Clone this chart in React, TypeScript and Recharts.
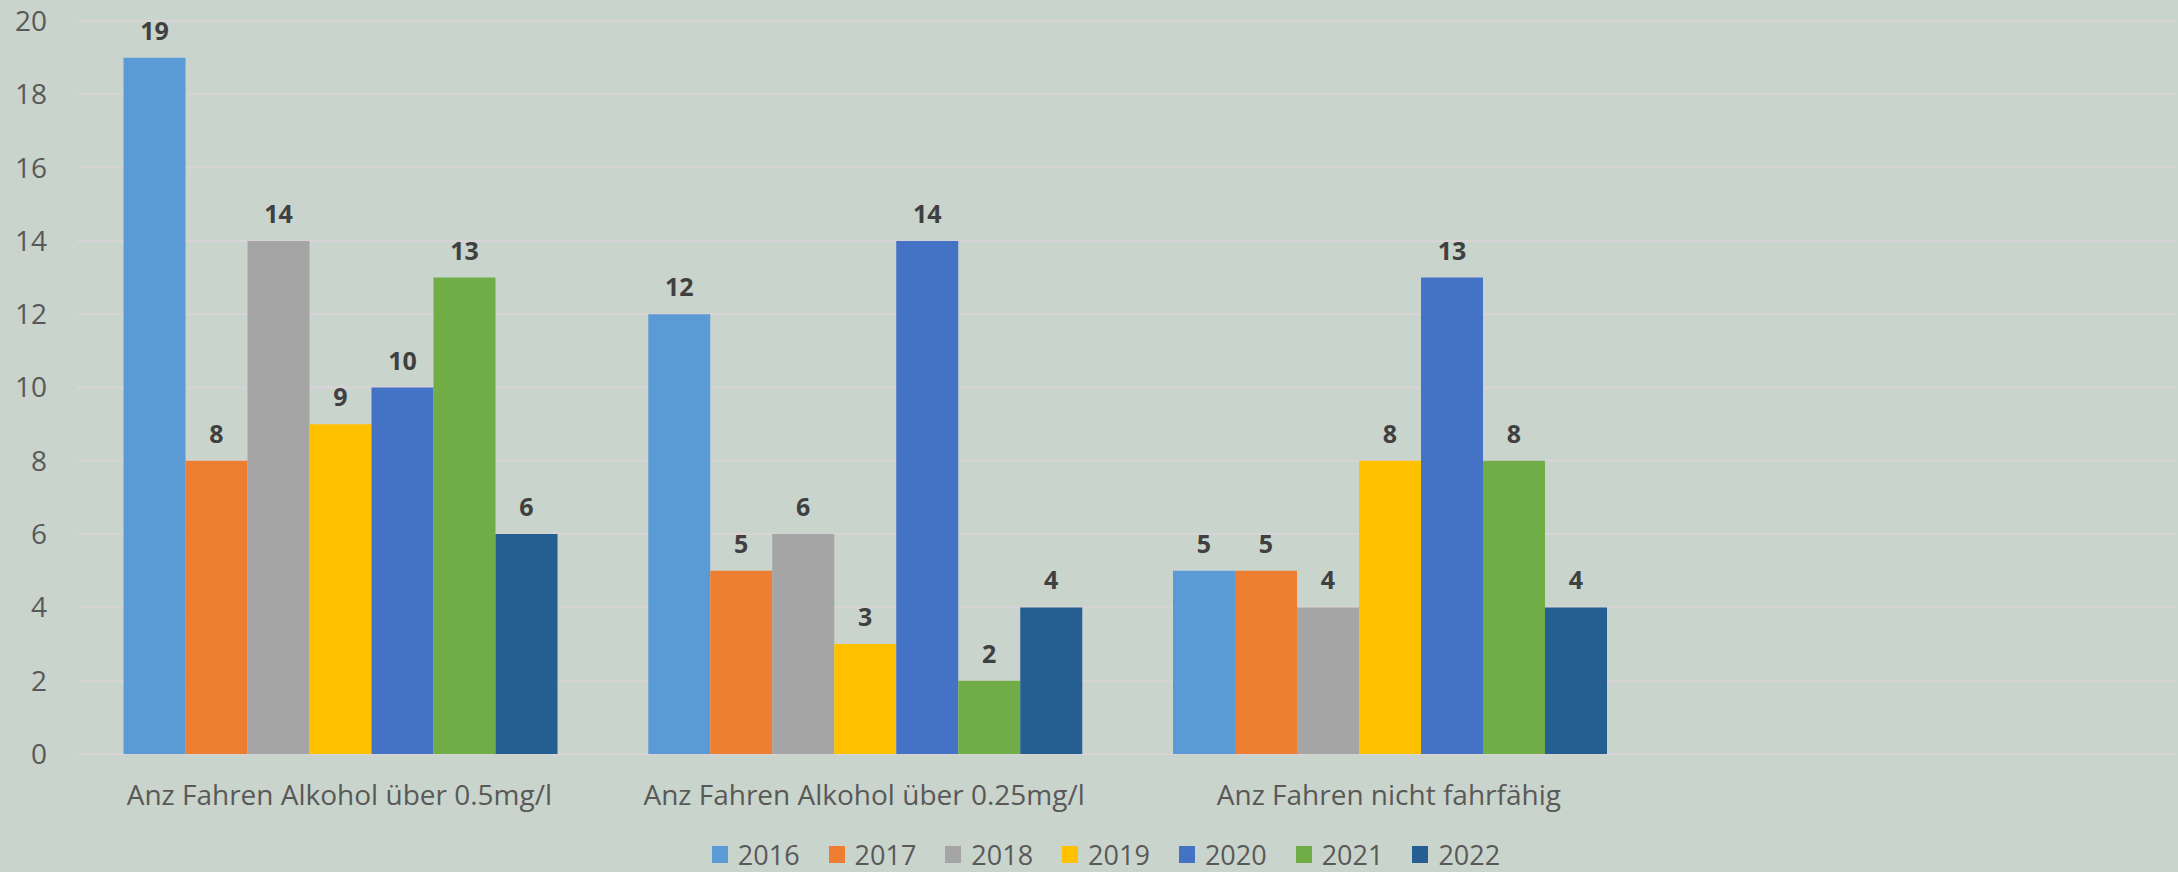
import React from "react";
import { BarChart, Bar, XAxis, YAxis, CartesianGrid, LabelList, Legend } from "recharts";

const categories = [
  "Anz Fahren Alkohol über 0.5mg/l",
  "Anz Fahren Alkohol über 0.25mg/l",
  "Anz Fahren nicht fahrfähig",
  "",
];
const years = ["2016", "2017", "2018", "2019", "2020", "2021", "2022"];
const v2016 = [19, 12, 5, null];
const v2017 = [8, 5, 5, null];
const v2018 = [14, 6, 4, null];
const v2019 = [9, 3, 8, null];
const v2020 = [10, 14, 13, null];
const v2021 = [13, 2, 8, null];
const v2022 = [6, 4, 4, null];
const yTicks = [0, 2, 4, 6, 8, 10, 12, 14, 16, 18, 20];
const colors = ["#5B9BD5", "#ED7D31", "#A5A5A5", "#FFC000", "#4472C4", "#70AD47", "#255E91"];

const seriesValues = [v2016, v2017, v2018, v2019, v2020, v2021, v2022];
const data = categories.map((name, i) => {
  const row: Record<string, any> = { name };
  years.forEach((y, j) => {
    row[y] = seriesValues[j][i];
  });
  return row;
});

const FONT = "'Open Sans', 'Liberation Sans', Arial, sans-serif";

const LegendContent = (props: any) => {
  const payload = props.payload || [];
  return (
    <div
      style={{
        display: "flex",
        justifyContent: "center",
        alignItems: "center",
        width: 2178,
        paddingLeft: 34,
        boxSizing: "border-box",
        fontFamily: FONT,
        fontSize: 27,
        lineHeight: "27px",
        color: "#595959",
      }}
    >
      {payload.map((p: any, i: number) => (
        <div
          key={i}
          style={{ display: "flex", alignItems: "center", marginRight: i < payload.length - 1 ? 29 : 0 }}
        >
          <span style={{ display: "inline-block", width: 16, height: 17, background: p.color, marginRight: 10 }} />
          <span>{p.value}</span>
        </div>
      ))}
    </div>
  );
};

export default function App() {
  return (
    <div
      style={{
        position: "absolute",
        left: 0,
        top: 0,
        width: 2178,
        height: 872,
        background: "#c9d4cc",
        overflow: "hidden",
      }}
    >
      <BarChart
        width={2178}
        height={872}
        data={data}
        margin={{ top: 21, right: 2, bottom: 88, left: 0 }}
        barCategoryGap={46.5}
        barGap={0}
      >
        <CartesianGrid vertical={false} stroke="#d9d3d7" strokeWidth={2} />
        <XAxis
          dataKey="name"
          interval={0}
          tickLine={false}
          axisLine={false}
          tickSize={0}
          tickMargin={31}
          height={30}
          tick={{ fontFamily: FONT, fontSize: 28, fill: "#595959" }}
        />
        <YAxis
          domain={[0, 20]}
          ticks={yTicks}
          width={77}
          tickLine={false}
          axisLine={false}
          tickSize={0}
          tickMargin={30}
          tick={{ fontFamily: FONT, fontSize: 28, fill: "#595959" }}
        />
        <Legend
          layout="vertical"
          align="center"
          verticalAlign="middle"
          wrapperStyle={{ top: 841, left: 0, width: 2178 }}
          content={<LegendContent />}
        />
        {years.map((y, j) => (
          <Bar key={y} dataKey={y} name={y} fill={colors[j]} isAnimationActive={false}>
            <LabelList
              dataKey={y}
              position="top"
              offset={18}
              formatter={(v: any) => (v == null ? "" : v)}
              style={{ fontFamily: FONT, fontSize: 25, fontWeight: 700, fill: "#404040" }}
            />
          </Bar>
        ))}
      </BarChart>
    </div>
  );
}
